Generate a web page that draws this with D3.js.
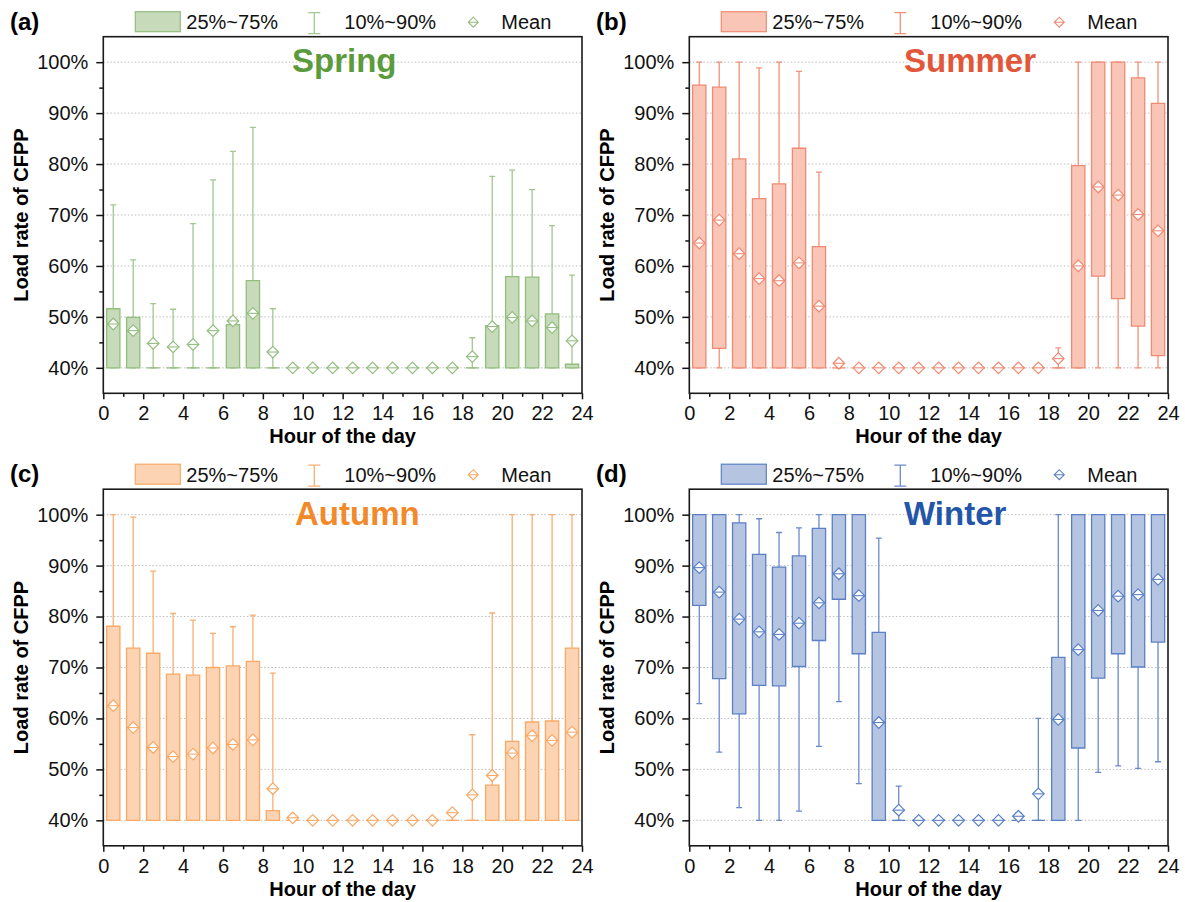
<!DOCTYPE html>
<html>
<head>
<meta charset="utf-8">
<script src="https://cdn.jsdelivr.net/npm/d3@7"></script>
<style>
  body { margin: 0; background: #fff; }
  svg { font-family: "Liberation Sans", Arial, sans-serif; }
</style>
</head>
<body>
<svg id="chart" width="1185" height="902"></svg>
<script>
// hour categories (box centred at h + 0.5)
const hours = [0,1,2,3,4,5,6,7,8,9,10,11,12,13,14,15,16,17,18,19,20,21,22,23];
const xTicks = [0,2,4,6,8,10,12,14,16,18,20,22,24];
const yTicks = [40,50,60,70,80,90,100];
const seasonNames = ["Spring", "Summer", "Autumn", "Winter"];
const panelTags = ["(a)", "(b)", "(c)", "(d)"];
const legendLabels = ["25%~75%", "10%~90%", "Mean"];

// Spring
const springP10 = [40,40,40,40,40,40,40,40,40,40,40,40,40,40,40,40,40,40,40,40,40,40,40,40];
const springP25 = [40,40,40,40,40,40,40,40,40,40,40,40,40,40,40,40,40,40,40,40,40,40,40,40];
const springP75 = [51.6,49.9,40,40,40,40,48.5,57.1,40,40,40,40,40,40,40,40,40,40,40,48.3,57.9,57.8,50.6,40.7];
const springP90 = [72.0,61.2,52.6,51.5,68.3,76.9,82.5,87.2,51.6,40,40,40,40,40,40,40,40,40,45.9,77.6,78.8,75.0,67.9,58.2];
const springMean = [48.6,47.3,44.8,44.1,44.6,47.3,49.2,50.7,43.1,40,40,40,40,40,40,40,40,40,42.2,48.1,49.9,49.2,47.9,45.3];

// Summer
const summerP10 = [40,40,40,40,40,40,40,40,40,40,40,40,40,40,40,40,40,40,40,40,40,40,40,40];
const summerP25 = [40,43.8,40,40,40,40,40,40,40,40,40,40,40,40,40,40,40,40,40,40,58.0,53.6,48.2,42.4];
const summerP75 = [95.5,95.1,81.0,73.2,76.1,83.1,63.8,40,40,40,40,40,40,40,40,40,40,40,40,79.7,100,100,96.9,91.9];
const summerP90 = [100,100,100,98.9,100,98.2,78.4,41.5,40,40,40,40,40,40,40,40,40,40,43.9,100,100,100,100,100];
const summerMean = [64.5,69.0,62.4,57.5,57.1,60.6,52.1,40.9,40,40,40,40,40,40,40,40,40,40,41.8,60.0,75.5,73.9,70.1,66.9];

// Autumn
const autumnP10 = [40,40,40,40,40,40,40,40,40,40,40,40,40,40,40,40,40,40,40,40,40,40,40,40];
const autumnP25 = [40,40,40,40,40,40,40,40,40,40,40,40,40,40,40,40,40,40,40,40,40,40,40,40];
const autumnP75 = [78.1,73.8,72.8,68.7,68.5,70.0,70.3,71.2,41.9,40,40,40,40,40,40,40,40,40,40,46.9,55.5,59.3,59.5,73.8];
const autumnP90 = [100,99.5,88.9,80.6,79.3,76.7,78.0,80.3,68.9,40.8,40,40,40,40,40,40,40,42,56.8,80.7,100,100,100,100];
const autumnMean = [62.5,58.2,54.3,52.5,53.0,54.2,54.9,55.8,46.2,40.5,40,40,40,40,40,40,40,41.5,45.0,48.8,53.2,56.6,55.7,57.3];

// Winter
const winterP10 = [62.9,53.4,42.5,40,40,41.8,54.5,63.3,47.2,40,40,40,40,40,40,40,40,40,40,40,49.4,50.7,50.2,51.5];
const winterP25 = [82.2,67.8,60.9,66.5,66.4,70.2,75.3,83.4,72.7,40,40,40,40,40,40,40,40,40,40,54.2,67.9,72.7,70.1,75.0];
const winterP75 = [100,100,98.4,92.2,89.7,91.9,97.3,100,100,76.9,40,40,40,40,40,40,40,40,72.0,100,100,100,100,100];
const winterP90 = [100,100,100,99.2,96.5,97.4,100,100,100,95.4,46.7,40,40,40,40,40,41.5,60.0,100,100,100,100,100,100];
const winterMean = [89.6,84.8,79.5,77.0,76.5,78.7,82.7,88.4,84.1,59.2,42.0,40,40,40,40,40,40.8,45.2,59.8,73.5,81.2,84.0,84.3,87.3];

const seasons = [
  { p10: springP10, p25: springP25, p75: springP75, p90: springP90, mean: springMean,
    title: "#5b9b3e", fill: "#c7dbba", stroke: "#93bd7f", whisk: "#a2c790" },
  { p10: summerP10, p25: summerP25, p75: summerP75, p90: summerP90, mean: summerMean,
    title: "#e2573a", fill: "#f9c5b7", stroke: "#f08a72", whisk: "#f2917a" },
  { p10: autumnP10, p25: autumnP25, p75: autumnP75, p90: autumnP90, mean: autumnMean,
    title: "#f28a2c", fill: "#fdd4b3", stroke: "#f9a865", whisk: "#f9ae72" },
  { p10: winterP10, p25: winterP25, p75: winterP75, p90: winterP90, mean: winterMean,
    title: "#2356a8", fill: "#b5c4e0", stroke: "#5b80c6", whisk: "#6a8bcb" }
];

// layout of the 2x2 grid
const panelX = [103.3, 689.3, 103.3, 689.3];
const panelY = [36.7, 36.7, 489.2, 489.2];
const titleX = [292, 904, 295, 904];
const tagX = [10, 596, 10, 596];
const W = 478.7, H = 356.6;

const svg = d3.select("#chart");

seasons.forEach((s, k) => {
  let x0 = panelX[k], y0 = panelY[k];
  let g = svg.append("g").attr("transform", "translate(" + x0 + "," + y0 + ")");

  let x = d3.scaleLinear().domain([0, 24]).range([0, W]);
  let y = d3.scaleLinear().domain([35, 105]).range([H, 0]);
  let bw = x(0.665) - x(0), cw = 6;

  // dotted grid
  g.append("g").selectAll("line")
    .data(yTicks).enter().append("line")
      .attr("x1", 0).attr("x2", W)
      .attr("y1", d => y(d)).attr("y2", d => y(d))
      .attr("stroke", "#bdbdbd").attr("stroke-width", 1)
      .attr("stroke-dasharray", "1.5,2");

  let boxes = g.append("g").selectAll("g")
    .data(hours).enter().append("g");

  // whiskers (10% - 90%)
  boxes.append("path")
    .attr("d", i => {
      let cx = x(i + 0.5);
      return "M" + cx + "," + y(s.p90[i]) + "V" + y(s.p75[i]) +
             "M" + cx + "," + y(s.p25[i]) + "V" + y(s.p10[i]) +
             "M" + (cx - cw / 2) + "," + y(s.p90[i]) + "h" + cw +
             "M" + (cx - cw / 2) + "," + y(s.p10[i]) + "h" + cw;
    })
    .attr("fill", "none").attr("stroke", s.whisk).attr("stroke-width", 1.3);

  // boxes (25% - 75%), path so zero-height boxes still show
  boxes.append("path")
    .attr("d", i => {
      let l = x(i + 0.5) - bw / 2;
      return "M" + l + "," + y(s.p75[i]) + "h" + bw + "V" + y(s.p25[i]) + "h" + (-bw) + "Z";
    })
    .attr("fill", s.fill).attr("stroke", s.stroke).attr("stroke-width", 1.3);

  // mean diamonds
  let dm = 5.8;
  boxes.append("path")
    .attr("d", i => {
      let cx = x(i + 0.5), cy = y(s.mean[i]);
      return "M" + (cx - dm) + "," + cy + "L" + cx + "," + (cy - dm) + "L" + (cx + dm) + "," + cy +
             "L" + cx + "," + (cy + dm) + "Z";
    })
    .attr("fill", "#fff").attr("stroke", s.stroke).attr("stroke-width", 1.2);
  boxes.append("path")
    .attr("d", i => "M" + (x(i + 0.5) - dm) + "," + y(s.mean[i]) + "h" + (2 * dm))
    .attr("stroke", s.stroke).attr("stroke-width", 1.1);

  // axes
  g.append("g")
    .call(d3.axisLeft(y).tickValues(yTicks).tickFormat(d => d + "%").tickSize(7).tickPadding(8).tickSizeOuter(0));
  g.append("g")
    .call(d3.axisLeft(y).tickValues([45,55,65,75,85,95]).tickFormat("").tickSize(4).tickSizeOuter(0));
  g.append("g").attr("transform", "translate(0," + H + ")")
    .call(d3.axisBottom(x).tickValues(xTicks).tickSize(6).tickPadding(7).tickSizeOuter(0));
  g.append("g").attr("transform", "translate(0," + H + ")")
    .call(d3.axisBottom(x).tickValues([1,3,5,7,9,11,13,15,17,19,21,23]).tickFormat("").tickSize(3.5).tickSizeOuter(0));

  g.selectAll(".domain").remove();
  g.selectAll(".tick line").attr("stroke", "#111").attr("stroke-width", 1.5);
  g.selectAll(".tick text").attr("fill", "#111").style("font-size", "20px")
    .style("font-family", "'Liberation Sans', Arial, sans-serif");

  // frame
  g.append("rect")
    .attr("width", W).attr("height", H)
    .attr("fill", "none").attr("stroke", "#1a1a1a").attr("stroke-width", 1.6);

  // axis titles
  g.append("text")
    .attr("x", W / 2).attr("y", H + 50)
    .attr("text-anchor", "middle").attr("font-weight", "bold").attr("font-size", 20)
    .text("Hour of the day");
  g.append("text")
    .attr("transform", "translate(-75," + (H / 2) + ") rotate(-90)")
    .attr("text-anchor", "middle").attr("font-weight", "bold").attr("font-size", 20)
    .text("Load rate of CFPP");

  // season title
  svg.append("text")
    .attr("x", titleX[k]).attr("y", y0 + 35.5)
    .attr("fill", s.title).attr("font-weight", "bold").attr("font-size", 33)
    .text(seasonNames[k]);

  // panel tag
  svg.append("text")
    .attr("x", tagX[k]).attr("y", y0 - 7)
    .attr("font-weight", "bold").attr("font-size", 24)
    .text(panelTags[k]);

  // legend
  let lg = svg.append("g").attr("transform", "translate(" + x0 + "," + y0 + ")");
  lg.append("rect")
    .attr("x", 32).attr("y", -25).attr("width", 45).attr("height", 20)
    .attr("fill", s.fill).attr("stroke", s.stroke).attr("stroke-width", 1.2);
  lg.append("path")
    .attr("d", "M211,-24V-3M" + (211 - 6) + ",-24h12M" + (211 - 6) + ",-3h12")
    .attr("fill", "none").attr("stroke", s.whisk).attr("stroke-width", 1.3);
  lg.append("path")
    .attr("d", "M365,-14.5L370,-19.5L375,-14.5L370,-9.5ZM365,-14.5h10")
    .attr("fill", "#fff").attr("stroke", s.stroke).attr("stroke-width", 1.1);
  lg.selectAll("text")
    .data(legendLabels).enter().append("text")
      .attr("x", (d, i) => [83, 241, 398][i]).attr("y", -7.5)
      .attr("font-size", 20).attr("fill", "#111")
      .text(d => d);
});
</script>
</body>
</html>
